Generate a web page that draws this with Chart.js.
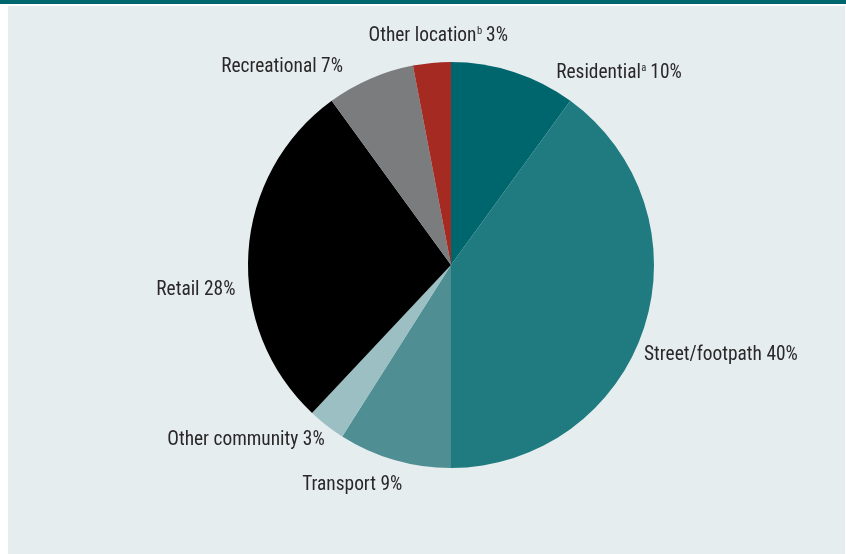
<!DOCTYPE html>
<html>
<head>
<meta charset="utf-8">
<script src="https://cdn.jsdelivr.net/npm/chart.js@4"></script>
<style>
    html, body { margin: 0; padding: 0; background: #ffffff; }
    #wrap { width: 846px; height: 554px; position: relative; }
</style>
</head>
<body>
<div id="wrap"><canvas id="locationChart" width="846" height="554"></canvas></div>
<script>
// Location categories, clockwise from 12 o'clock
const categories = ['Residential', 'Street/footpath', 'Transport', 'Other community', 'Retail', 'Recreational', 'Other location'];
const footnotes = ['a', '', '', '', '', '', 'b'];
const shares = [10, 40, 9, 3, 28, 7, 3];
const sliceColors = ['#00666d', '#1f7b80', '#4f8f94', '#9bbfc2', '#000000', '#7b7c7e', '#a52a22'];

// Where each label sits: angle (deg, clockwise from top), gap beyond the rim, text alignment
const labelPlacement = [
    { angle: 28.7, gap: 16, align: 'left' },
    { angle: 115, gap: 10, align: 'left' },
    { angle: 204.2, gap: 38, align: 'center' },
    { angle: 215.8, gap: 13, align: 'right' },
    { angle: 263.4, gap: 14, align: 'right' },
    { angle: 331.3, gap: 22, align: 'right' },
    { angle: 356.8, gap: 26, align: 'center' }
];

const FONT = '"Liberation Sans Narrow", "Roboto Condensed", "Arial Narrow", sans-serif';
const MAIN_SIZE = '19.4px ';
const SUP_SIZE = '10.5px ';

// Panel background with the teal rule on top
const panelBackground = {
    id: 'panelBackground',
    beforeDraw(chart) {
        const ctx = chart.ctx;
        ctx.save();
        ctx.fillStyle = '#ffffff';
        ctx.fillRect(0, 0, chart.width, chart.height);
        ctx.fillStyle = '#e5edef';
        ctx.fillRect(8, 6, chart.width - 9, chart.height - 6);
        ctx.fillStyle = '#00666d';
        ctx.fillRect(0, 0, chart.width, 4);
        ctx.restore();
    }
};

// Outside labels with optional superscript footnote
const outsideLabels = {
    id: 'outsideLabels',
    afterDatasetsDraw(chart) {
        const ctx = chart.ctx;
        const arc = chart.getDatasetMeta(0).data[0];
        const cx = arc.x, cy = arc.y, r = arc.outerRadius;
        ctx.save();
        ctx.fillStyle = '#2a2728';
        ctx.textBaseline = 'middle';
        categories.forEach((name, i) => {
            const p = labelPlacement[i];
            const a = p.angle * Math.PI / 180;
            const x = cx + Math.sin(a) * (r + p.gap);
            const y = cy - Math.cos(a) * (r + p.gap);
            const sup = footnotes[i];
            const tail = ' ' + shares[i] + '%';
            ctx.font = MAIN_SIZE + FONT;
            const wMain = ctx.measureText(name).width;
            const wTail = ctx.measureText(tail).width;
            ctx.font = SUP_SIZE + FONT;
            const wSup = sup ? ctx.measureText(sup).width : 0;
            const total = wMain + wSup + wTail;
            let left = x;
            if (p.align === 'right') left = x - total;
            else if (p.align === 'center') left = x - total / 2;
            ctx.textAlign = 'left';
            ctx.font = MAIN_SIZE + FONT;
            ctx.fillText(name, left, y);
            if (sup) {
                ctx.font = SUP_SIZE + FONT;
                ctx.fillText(sup, left + wMain + 0.5, y - 5);
            }
            ctx.font = MAIN_SIZE + FONT;
            ctx.fillText(tail, left + wMain + wSup, y);
        });
        ctx.restore();
    }
};

new Chart(document.getElementById('locationChart'), {
    type: 'pie',
    data: {
        labels: categories,
        datasets: [{
            data: shares,
            backgroundColor: sliceColors,
            borderWidth: 0
        }]
    },
    options: {
        responsive: false,
        animation: false,
        rotation: 0,
        layout: { padding: { top: 62, bottom: 86, left: 56, right: 0 } },
        plugins: {
            legend: { display: false },
            tooltip: { enabled: false }
        }
    },
    plugins: [panelBackground, outsideLabels]
});
</script>
</body>
</html>
